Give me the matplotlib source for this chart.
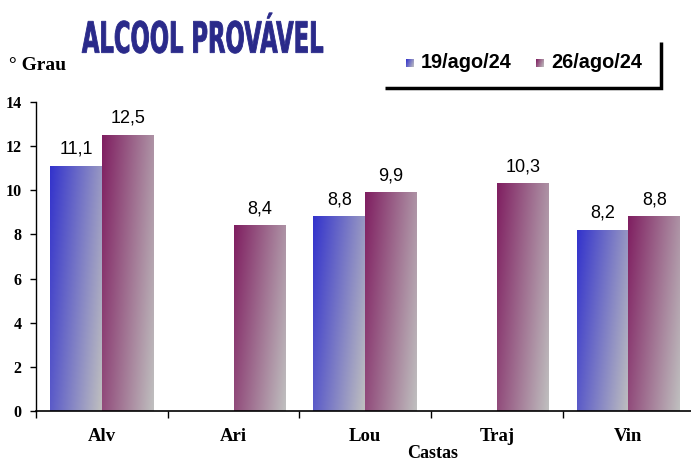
import numpy as np
import matplotlib
matplotlib.use("Agg")
import matplotlib.pyplot as plt
from matplotlib.textpath import TextPath
from matplotlib.font_manager import FontProperties
from matplotlib.patches import PathPatch
from matplotlib.transforms import Affine2D
from matplotlib.lines import Line2D

# dados
castas = ["Alv", "Ari", "Lou", "Traj", "Vin"]
series = ["19/ago/24", "26/ago/24"]
v_19ago = [11.1, np.nan, 8.8, np.nan, 8.2]
v_26ago = [12.5, 8.4, 9.9, 10.3, 8.8]

cores = [(0.20, 0.20, 0.80), (0.50, 0.12, 0.38)]
prata = np.array([0.75, 0.75, 0.75])


def gradiente(cor, n=64):
    # degradê diagonal: cor no canto superior esquerdo, prata no inferior direito
    xf = np.linspace(0, 1, n)[None, :]
    yd = np.linspace(0, 1, n)[:, None]
    t = np.clip((xf + 0.4 * yd) / 1.4, 0, 1)[..., None]
    return (1 - t) * np.array(cor) + t * prata


W, H = 691, 462
fig = plt.figure(figsize=(W / 100, H / 100), dpi=100)
ax = fig.add_axes([36.2 / W, 51 / H, 658 / W, 309 / H])

x = np.arange(len(castas))
bw = 0.393
for i, (vals, cor) in enumerate(zip([v_19ago, v_26ago], cores)):
    offs = (i - 0.5) * bw
    bars = ax.bar(x + offs, np.nan_to_num(vals), bw, color="none", edgecolor="none")
    img = gradiente(cor)
    for b, v in zip(bars, vals):
        if np.isnan(v):
            continue
        x0, h = b.get_x(), b.get_height()
        ax.imshow(img, extent=[x0, x0 + b.get_width(), 0, h], aspect="auto",
                  interpolation="bilinear", zorder=2)
        ax.annotate(f"{v:.1f}".replace(".", ","), (x0 + b.get_width() / 2, h),
                    xytext=(0, 6), textcoords="offset points", ha="center",
                    va="bottom", fontsize=13, family="Liberation Sans")

ax.set_xlim(-0.5, 4.5)
ax.set_ylim(0, 14)
ax.set_yticks(np.arange(0, 15, 2))
ax.set_xticks(np.arange(-0.5, 5, 1))
ax.set_xticklabels([])
ax.set_xticks(x, minor=True)
ax.set_xticklabels(castas, minor=True)
ax.tick_params(axis="x", which="minor", length=0, pad=12)
ax.tick_params(axis="x", which="major", length=5, width=1)
ax.tick_params(axis="y", length=4.5, width=1, pad=6)
for lab in ax.get_yticklabels() + ax.get_xticklabels(minor=True):
    lab.set_family("Liberation Serif")
    lab.set_fontweight("bold")
for lab in ax.get_yticklabels():
    lab.set_fontsize(11.5)
for lab in ax.get_xticklabels(minor=True):
    lab.set_fontsize(13.5)
for s in ["top", "right"]:
    ax.spines[s].set_visible(False)
ax.spines["left"].set_linewidth(1)
ax.spines["bottom"].set_linewidth(1.2)

fig.text(433 / W, 1 - 454 / H, "Castas", ha="center", va="center",
         family="Liberation Serif", fontweight="bold", fontsize=13)
fig.text(9 / W, 1 - 66 / H, "° Grau", ha="left", va="center",
         family="Liberation Serif", fontweight="bold", fontsize=14)

# título
fp = FontProperties(family="Liberation Sans Narrow", weight="bold")
ref = TextPath((0, 0), "ALCOOL PROVAVEL", size=50, prop=fp).get_extents()
tp = TextPath((0, 0), "ALCOOL PROVÁVEL", size=50, prop=fp)
sx = (323 - 82) / ref.width
sy = (53.3 - 20.7) / ref.height
tr = Affine2D().translate(-ref.x0, -ref.y0).scale(sx, sy).translate(82, H - 53.3)
fig.patches.append(PathPatch(tr.transform_path(tp), facecolor="#2a2a8a",
                             edgecolor="#2a2a8a", lw=0.6, transform=None))

# legenda
fig.add_artist(Line2D([385 / W, 661 / W, 661 / W], [1 - 88 / H, 1 - 88 / H, 1 - 42 / H],
                      color="black", lw=2.5, solid_joinstyle="miter",
                      solid_capstyle="butt"))
for cor, lx, nome in zip(cores, [406, 536], series):
    lax = fig.add_axes([lx / W, 1 - 67 / H, 8 / W, 8 / H])
    lax.imshow(gradiente(cor, 16), aspect="auto", interpolation="bilinear")
    lax.axis("off")
    fig.text((lx + 15) / W, 1 - 62 / H, nome, ha="left", va="center",
             family="Liberation Sans", fontweight="bold", fontsize=14.3)

fig.savefig("out.png", dpi=100)
